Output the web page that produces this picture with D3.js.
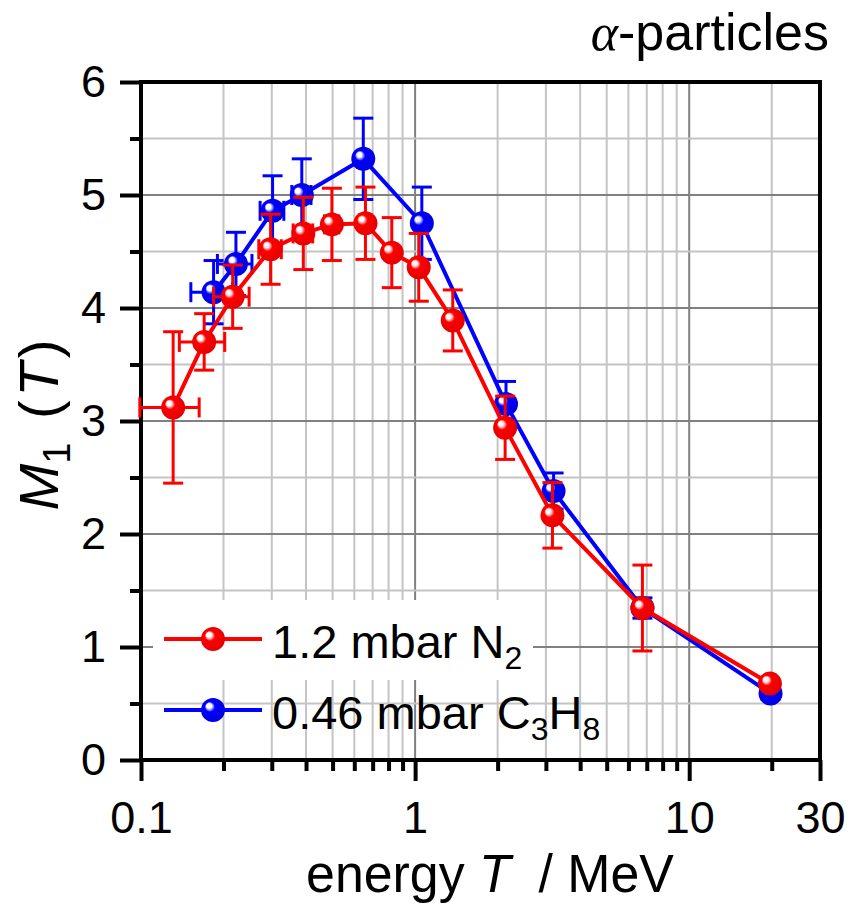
<!DOCTYPE html>
<html><head><meta charset="utf-8">
<script src="https://cdn.jsdelivr.net/npm/d3@7"></script>
<style>body{margin:0;background:#fff}svg{display:block}text{font-family:"Liberation Sans",Arial,sans-serif}</style>
</head><body>
<svg id="c" width="852" height="904"></svg>
<script>
// ---- data ----
const energyN2 = [0.131, 0.170, 0.216, 0.297, 0.391, 0.497, 0.659, 0.822, 1.031, 1.372, 2.13, 3.17, 6.75, 19.7];
const m1N2     = [3.12, 3.70, 4.10, 4.52, 4.66, 4.74, 4.75, 4.49, 4.36, 3.89, 2.94, 2.165, 1.345, 0.676];
const yErrN2   = [0.67, 0.25, 0.28, 0.31, 0.32, 0.32, 0.32, 0.31, 0.30, 0.27, 0.28, 0.29, 0.38, 0.03];
const xErrN2   = [0.032, 0.032, 0.032, 0.028, 0.032, 0.03, 0.03, 0.03, 0.03, 0, 0, 0, 0, 0];

const energyC3H8 = [0.184, 0.222, 0.302, 0.386, 0.647, 1.058, 2.146, 3.20, 6.75, 19.8];
const m1C3H8     = [4.14, 4.39, 4.86, 5.00, 5.32, 4.75, 3.15, 2.38, 1.345, 0.588];
const yErrC3H8   = [0.28, 0.28, 0.31, 0.32, 0.36, 0.32, 0.20, 0.16, 0.09, 0.05];
const xErrC3H8   = [0.032, 0.032, 0.03, 0.031, 0.03, 0.03, 0, 0, 0, 0];

const xMajorTicks = [0.1, 1, 10, 30];
const xTickLabels = ["0.1", "1", "10", "30"];
const xMinorTicks = [0.2,0.3,0.4,0.5,0.6,0.7,0.8,0.9,2,3,4,5,6,7,8,9,20];
const yMajorTicks = [0,1,2,3,4,5,6];
const yMinorTicks = [0.5,1.5,2.5,3.5,4.5,5.5];

const seriesNames = ["1.2 mbar N", "0.46 mbar C"];

// ---- layout ----
const svg = d3.select("#c");
const L = 141, R = 820, T = 82, B = 760;
const x = d3.scaleLog().domain([0.1, 30]).range([L, R]);
const y = d3.scaleLinear().domain([0, 6]).range([B, T]);

const defs = svg.append("defs");
function grad(id, base, dark) {
  const g = defs.append("radialGradient").attr("id", id)
    .attr("cx", "0.5").attr("cy", "0.5").attr("r", "0.6")
    .attr("fx", "0.3").attr("fy", "0.3");
  g.append("stop").attr("offset", "0%").attr("stop-color", "#ffffff");
  g.append("stop").attr("offset", "18%").attr("stop-color", "#ffffff").attr("stop-opacity", 0.9);
  g.append("stop").attr("offset", "35%").attr("stop-color", base);
  g.append("stop").attr("offset", "100%").attr("stop-color", dark);
}
grad("gRed", "#ff0000", "#e00000");
grad("gBlue", "#0000ff", "#0000d8");

// grid
const grid = svg.append("g");
grid.selectAll(".vmin").data(xMinorTicks).join("line")
  .attr("x1", d => x(d)).attr("x2", d => x(d)).attr("y1", T).attr("y2", B)
  .attr("stroke", "#c4c4c4").attr("stroke-width", 2);
grid.selectAll(".vmaj").data(xMajorTicks.slice(1, 3)).join("line")
  .attr("x1", d => x(d)).attr("x2", d => x(d)).attr("y1", T).attr("y2", B)
  .attr("stroke", "#808080").attr("stroke-width", 2);
grid.selectAll(".hmin").data(yMinorTicks).join("line")
  .attr("x1", L).attr("x2", R).attr("y1", d => y(d)).attr("y2", d => y(d))
  .attr("stroke", "#c4c4c4").attr("stroke-width", 2);
grid.selectAll(".hmaj").data(yMajorTicks.slice(1, 6)).join("line")
  .attr("x1", L).attr("x2", R).attr("y1", d => y(d)).attr("y2", d => y(d))
  .attr("stroke", "#808080").attr("stroke-width", 2);

// legend background (first row)
svg.append("rect").attr("x", 153).attr("y", 600).attr("width", 380).attr("height", 80).attr("fill", "#fff");

// axes
const fs = 45;
const xAxisMaj = d3.axisBottom(x).tickValues(xMajorTicks).tickSize(21).tickPadding(20)
  .tickFormat((d, i) => xTickLabels[i]);
const gx = svg.append("g").attr("transform", `translate(0,${B})`).call(xAxisMaj);
const xAxisMin = d3.axisBottom(x).tickValues(xMinorTicks).tickSize(11).tickFormat("");
const gx2 = svg.append("g").attr("transform", `translate(0,${B})`).call(xAxisMin);
const yAxisMaj = d3.axisLeft(y).tickValues(yMajorTicks).tickSize(21).tickPadding(14).tickFormat(d3.format("d"));
const gy = svg.append("g").attr("transform", `translate(${L},0)`).call(yAxisMaj);
const yAxisMin = d3.axisLeft(y).tickValues(yMinorTicks).tickSize(11).tickFormat("");
const gy2 = svg.append("g").attr("transform", `translate(${L},0)`).call(yAxisMin);
[gx, gx2, gy, gy2].forEach(g => {
  g.select(".domain").remove();
  g.selectAll(".tick line").attr("stroke", "#000").attr("stroke-width", 4);
  g.selectAll("text").attr("font-size", fs).attr("fill", "#000")
    .attr("font-family", '"Liberation Sans", Arial, sans-serif');
});

// frame
svg.append("rect").attr("x", L).attr("y", T).attr("width", R - L).attr("height", B - T)
  .attr("fill", "none").attr("stroke", "#000").attr("stroke-width", 4);

// series
function drawSeries(xs, ys, ye, xe, color, gradId) {
  const g = svg.append("g");
  const pts = xs.map((v, i) => ({x: v, y: ys[i], ye: ye[i], xe: xe[i]}));
  const line = d3.line().x(d => x(d.x)).y(d => y(d.y));
  g.append("path").datum(pts).attr("d", line).attr("fill", "none")
    .attr("stroke", color).attr("stroke-width", 4).attr("stroke-linejoin", "round");
  const cap = 10;
  const eb = g.append("g").attr("stroke", color).attr("stroke-width", 3).attr("fill", "none");
  pts.forEach(d => {
    const cx = x(d.x), cy = y(d.y);
    if (d.ye > 0) {
      const y1 = y(d.y + d.ye), y2 = y(d.y - d.ye);
      eb.append("line").attr("x1", cx).attr("x2", cx).attr("y1", y1).attr("y2", y2);
      eb.append("line").attr("x1", cx - cap).attr("x2", cx + cap).attr("y1", y1).attr("y2", y1);
      eb.append("line").attr("x1", cx - cap).attr("x2", cx + cap).attr("y1", y2).attr("y2", y2);
    }
    if (d.xe > 0) {
      const x1 = x(d.x - d.xe), x2 = x(d.x + d.xe);
      eb.append("line").attr("x1", x1).attr("x2", x2).attr("y1", cy).attr("y2", cy);
      eb.append("line").attr("x1", x1).attr("x2", x1).attr("y1", cy - cap).attr("y2", cy + cap);
      eb.append("line").attr("x1", x2).attr("x2", x2).attr("y1", cy - cap).attr("y2", cy + cap);
    }
  });
  g.selectAll("circle").data(pts).join("circle")
    .attr("cx", d => x(d.x)).attr("cy", d => y(d.y)).attr("r", 12)
    .attr("fill", `url(#${gradId})`);
}
drawSeries(energyC3H8, m1C3H8, yErrC3H8, xErrC3H8, "#0000ff", "gBlue");
drawSeries(energyN2, m1N2, yErrN2, xErrN2, "#ff0000", "gRed");

// legend
function legendRow(yy, color, gradId, build) {
  svg.append("line").attr("x1", 164).attr("x2", 262).attr("y1", yy).attr("y2", yy)
    .attr("stroke", color).attr("stroke-width", 4);
  svg.append("circle").attr("cx", 213).attr("cy", yy).attr("r", 12).attr("fill", `url(#${gradId})`);
  const t = svg.append("text").attr("x", 272).attr("y", yy + 19).attr("font-size", 47).attr("fill", "#000");
  build(t);
}
legendRow(639, "#ff0000", "gRed", t => {
  t.append("tspan").text(seriesNames[0]);
  t.append("tspan").attr("font-size", 32).attr("dy", 11).text("2");
});
legendRow(710, "#0000ff", "gBlue", t => {
  t.append("tspan").text(seriesNames[1]);
  t.append("tspan").attr("font-size", 32).attr("dy", 11).text("3");
  t.append("tspan").attr("dy", -11).text("H");
  t.append("tspan").attr("font-size", 32).attr("dy", 11).text("8");
});

// title
const tt = svg.append("text").attr("x", 829).attr("y", 50).attr("text-anchor", "end")
  .attr("font-size", 52).attr("fill", "#000");
tt.append("tspan").attr("font-family", '"Liberation Serif", serif').attr("font-style", "italic").text("α");
tt.append("tspan").text("-particles");

// x axis title
const xt = svg.append("text").attr("transform", "translate(490,892) scale(0.96,1)")
  .attr("text-anchor", "middle").attr("font-size", 54).attr("fill", "#000");
xt.append("tspan").text("energy ");
xt.append("tspan").attr("font-style", "italic").text("T");
xt.append("tspan").attr("dx", 14).text(" / MeV");

// y axis title
const yt = svg.append("text").attr("transform", "translate(58,425) rotate(-90)")
  .attr("text-anchor", "middle").attr("font-size", 56).attr("fill", "#000");
yt.append("tspan").attr("font-style", "italic").text("M");
yt.append("tspan").attr("font-size", 38).attr("dy", 12).text("1");
yt.append("tspan").attr("dy", -12).attr("dx", 8).text(" (");
yt.append("tspan").attr("font-style", "italic").attr("dx", 4).text("T");
yt.append("tspan").attr("dx", 4).text(")");
</script>
</body></html>
